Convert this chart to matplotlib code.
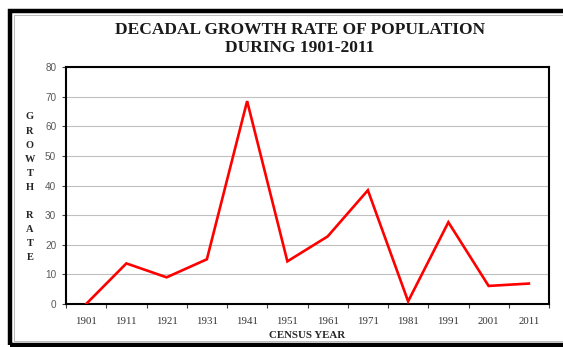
import matplotlib
matplotlib.use('Agg')
import matplotlib.pyplot as plt
from matplotlib.patches import Rectangle

# data
census_years = ['1901', '1911', '1921', '1931', '1941', '1951',
                '1961', '1971', '1981', '1991', '2001', '2011']
growth_rate = [0.0, 13.7, 9.0, 15.1, 68.5, 14.4, 22.8, 38.4, 0.9, 27.6, 6.1, 6.9]
y_ticks = [0, 10, 20, 30, 40, 50, 60, 70, 80]

W, H = 563, 347
fig = plt.figure(figsize=(W / 100, H / 100), dpi=100)
fig.patch.set_facecolor('white')

# axes box in pixel terms
left, right, top, bottom = 66, 549, 67, 304
ax = fig.add_axes([left / W, 1 - bottom / H, (right - left) / W, (bottom - top) / H])

x = list(range(len(census_years)))
ax.plot(x, growth_rate, color='#ff0000', linewidth=1.9, solid_joinstyle='miter', zorder=3)

ax.set_xlim(-0.5, len(census_years) - 0.5)
ax.set_ylim(0, 80)
ax.set_yticks(y_ticks)
ax.set_yticklabels([str(v) for v in y_ticks], color='#595959',
                   fontfamily='Liberation Sans', fontsize=7.2)
ax.set_xticks(x)
ax.set_xticklabels(census_years, fontfamily='Liberation Serif', fontsize=7.8, color='#333333')
ax.set_xticks([i - 0.5 for i in range(len(census_years) + 1)], minor=True)
ax.tick_params(axis='x', which='major', length=0, pad=9)
ax.tick_params(axis='x', which='minor', length=3, width=0.8, color='#404040')
ax.tick_params(axis='y', length=3, width=0.8, color='#404040', pad=4)

ax.grid(axis='y', color='#c0c0c0', linewidth=0.8)
ax.set_axisbelow(True)
for s in ax.spines.values():
    s.set_linewidth(1.5)
    s.set_color('black')

# title
fig.text(300 / W, 1 - 30 / H, 'DECADAL GROWTH RATE OF POPULATION', ha='center', va='center',
         fontfamily='Liberation Serif', fontweight='bold', fontsize=12.5, color='#1a1a1a')
fig.text(300 / W, 1 - 48 / H, 'DURING 1901-2011', ha='center', va='center',
         fontfamily='Liberation Serif', fontweight='bold', fontsize=12.5, color='#1a1a1a')

# stacked y label
letters = ['G', 'R', 'O', 'W', 'T', 'H', '', 'R', 'A', 'T', 'E']
for i, ch in enumerate(letters):
    fig.text(30 / W, 1 - (117 + i * 14.1) / H, ch, ha='center', va='center',
             fontfamily='Liberation Serif', fontweight='bold', fontsize=7.5, color='#262626')

fig.text(307 / W, 1 - 336 / H, 'CENSUS YEAR', ha='center', va='center',
         fontfamily='Liberation Serif', fontweight='bold', fontsize=7.8, color='#262626')

# outer frame (runs off the right edge)
fig.patches.append(Rectangle((10 / W, 2 / H), 600 / W, (H - 13) / H, transform=fig.transFigure,
                             fill=False, edgecolor='black', linewidth=3.2, clip_on=False))
fig.patches.append(Rectangle((14 / W, 6 / H), 600 / W, (H - 21) / H, transform=fig.transFigure,
                             fill=False, edgecolor='#b0b0b0', linewidth=0.6, clip_on=False))

fig.savefig('out.png', dpi=100)
